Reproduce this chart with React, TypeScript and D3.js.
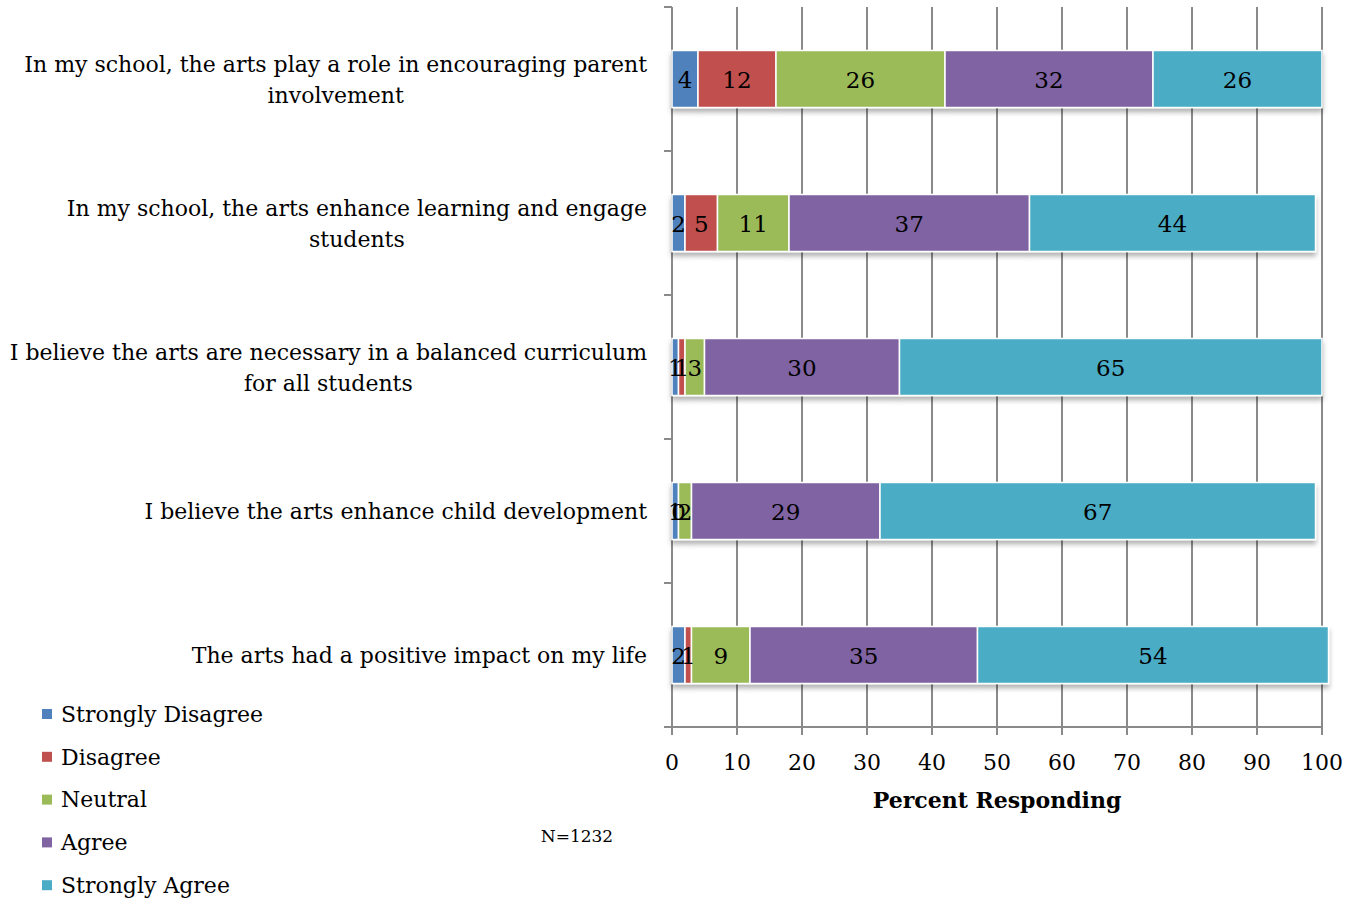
import * as d3 from "d3";
import { useEffect, useRef } from "react";

const categories = [
  ["In my school, the arts play a role in encouraging parent", "involvement"],
  ["In my school, the arts enhance learning and engage", "students"],
  ["I believe the arts are necessary in a balanced curriculum", "for all students"],
  ["I believe the arts enhance child development"],
  ["The arts had a positive impact on my life"],
];

const seriesNames = ["Strongly Disagree", "Disagree", "Neutral", "Agree", "Strongly Agree"];
const seriesColors = ["#4F81BD", "#C0504D", "#9BBB59", "#8064A2", "#4BACC6"];

const stronglyDisagree = [4, 2, 1, 1, 2];
const disagree = [12, 5, 1, 0, 1];
const neutral = [26, 11, 3, 2, 9];
const agree = [32, 37, 30, 29, 35];
const stronglyAgree = [26, 44, 65, 67, 54];

const xTicks = [0, 10, 20, 30, 40, 50, 60, 70, 80, 90, 100];

const FONT = "'DejaVu Serif', serif";

const App: React.FC = () => {
  const ref = useRef<SVGSVGElement | null>(null);

  useEffect(() => {
    document.body.style.margin = "0";
    if (!ref.current) return;
    const svg = d3.select(ref.current);
    svg.selectAll("*").remove();

    const left = 672;
    const right = 1322;
    const top = 7;
    const bottom = 727;

    const values = [stronglyDisagree, disagree, neutral, agree, stronglyAgree];
    const rows = categories.map((_, i) => {
      const r: Record<string, number> = {};
      seriesNames.forEach((s, j) => (r[s] = values[j][i]));
      return r;
    });
    const stacked = d3.stack<Record<string, number>>().keys(seriesNames)(rows);

    const x = d3.scaleLinear().domain([0, 100]).range([left, right]);
    const y = d3
      .scaleBand<number>()
      .domain(categories.map((_, i) => i))
      .range([top, bottom])
      .paddingInner(0.604)
      .paddingOuter(0.302);

    const defs = svg.append("defs");
    const f = defs
      .append("filter")
      .attr("id", "shadow")
      .attr("x", "-5%")
      .attr("y", "-20%")
      .attr("width", "110%")
      .attr("height", "160%");
    f.append("feDropShadow")
      .attr("dx", 0)
      .attr("dy", 4)
      .attr("stdDeviation", 2.5)
      .attr("flood-color", "#000")
      .attr("flood-opacity", 0.3);

    const axisColor = "#8a8a8a";

    // vertical grid lines
    svg
      .append("g")
      .selectAll("line")
      .data(xTicks)
      .join("line")
      .attr("x1", (d) => x(d))
      .attr("x2", (d) => x(d))
      .attr("y1", top)
      .attr("y2", bottom + 8)
      .attr("stroke", axisColor)
      .attr("stroke-width", 2);

    // left axis + category ticks
    svg
      .append("line")
      .attr("x1", left)
      .attr("x2", left)
      .attr("y1", top)
      .attr("y2", bottom + 8)
      .attr("stroke", axisColor)
      .attr("stroke-width", 2);
    const bounds = categories.map((_, i) => y(i)! - (y.step() - y.bandwidth()) / 2).concat([bottom]);
    svg
      .append("g")
      .selectAll("line")
      .data(bounds)
      .join("line")
      .attr("x1", left - 8)
      .attr("x2", left)
      .attr("y1", (d) => d)
      .attr("y2", (d) => d)
      .attr("stroke", axisColor)
      .attr("stroke-width", 2);

    // bottom axis
    svg
      .append("line")
      .attr("x1", left - 8)
      .attr("x2", right)
      .attr("y1", bottom)
      .attr("y2", bottom)
      .attr("stroke", axisColor)
      .attr("stroke-width", 2);

    svg
      .append("g")
      .selectAll("text")
      .data(xTicks)
      .join("text")
      .attr("x", (d) => x(d))
      .attr("y", 770)
      .attr("text-anchor", "middle")
      .attr("font-family", FONT)
      .attr("font-size", 22)
      .attr("fill", "#000")
      .text((d) => d);

    svg
      .append("text")
      .attr("x", 997)
      .attr("y", 808)
      .attr("text-anchor", "middle")
      .attr("font-family", FONT)
      .attr("font-size", 22)
      .attr("font-weight", "bold")
      .text("Percent Responding");

    // bars
    const barG = svg.append("g").attr("filter", "url(#shadow)");
    stacked.forEach((layer, j) => {
      barG
        .append("g")
        .selectAll("rect")
        .data(layer)
        .join("rect")
        .attr("x", (d) => x(d[0]))
        .attr("y", (_, i) => y(i)!)
        .attr("width", (d) => Math.max(0, x(d[1]) - x(d[0])))
        .attr("height", y.bandwidth())
        .attr("fill", seriesColors[j])
        .attr("stroke", "#fff")
        .attr("stroke-width", 1.5);
    });

    // data labels
    stacked.forEach((layer) => {
      svg
        .append("g")
        .selectAll("text")
        .data(layer)
        .join("text")
        .attr("x", (d) => x((d[0] + d[1]) / 2))
        .attr("y", (_, i) => y(i)! + y.bandwidth() / 2)
        .attr("dy", "0.38em")
        .attr("text-anchor", "middle")
        .attr("font-family", FONT)
        .attr("font-size", 23)
        .attr("fill", "#000")
        .text((d) => d[1] - d[0]);
    });

    // category labels
    categories.forEach((lines, i) => {
      const cy = y(i)! + y.bandwidth() / 2;
      const lh = 31;
      const g = svg.append("g");
      const texts = lines.map((line, k) =>
        g
          .append("text")
          .attr("y", cy + (k - (lines.length - 1) / 2) * lh)
          .attr("dy", "0.38em")
          .attr("text-anchor", "middle")
          .attr("font-family", FONT)
          .attr("font-size", 22)
          .attr("fill", "#000")
          .text(line)
      );
      const w = d3.max(texts, (t) => (t.node() as SVGTextElement).getComputedTextLength()) ?? 0;
      texts.forEach((t) => t.attr("x", 647 - w / 2));
    });

    // legend
    const lg = svg.append("g");
    seriesNames.forEach((s, j) => {
      const ly = 714 + j * 42.8;
      lg.append("rect")
        .attr("x", 42)
        .attr("y", ly - 5)
        .attr("width", 10)
        .attr("height", 10)
        .attr("fill", seriesColors[j]);
      lg.append("text")
        .attr("x", 61)
        .attr("y", ly)
        .attr("dy", "0.35em")
        .attr("font-family", FONT)
        .attr("font-size", 22)
        .attr("fill", "#000")
        .text(s);
    });

    svg
      .append("text")
      .attr("x", 577)
      .attr("y", 836)
      .attr("dy", "0.35em")
      .attr("text-anchor", "middle")
      .attr("font-family", FONT)
      .attr("font-size", 17)
      .attr("fill", "#000")
      .text("N=1232");
  }, []);

  return <svg ref={ref} width={1362} height={902} style={{ display: "block", background: "#fff" }} />;
};

export default App;
